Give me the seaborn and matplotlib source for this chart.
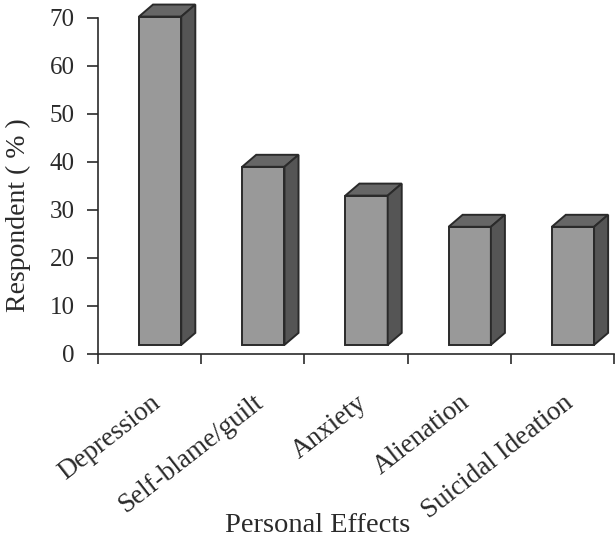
import matplotlib
matplotlib.use('Agg')
import matplotlib.pyplot as plt
from matplotlib.patches import Polygon
import pandas as pd
import seaborn as sns

effects = ['Depression', 'Self-blame/guilt', 'Anxiety', 'Alienation', 'Suicidal Ideation']
respondents = [70.3, 39, 33, 26.5, 26.5]
y_ticks = [0, 10, 20, 30, 40, 50, 60, 70]

sns.set_style('white')
plt.rcParams['font.family'] = ['Liberation Serif', 'DejaVu Serif']

W, H = 615, 540
ink = '#2a2a2a'
fig = plt.figure(figsize=(W / 100, H / 100), dpi=100)
# axis box in pixels: x 98-614, y 18-354
ax = fig.add_axes([98 / W, 1 - 354 / H, (614 - 98) / W, (354 - 18) / H])

df = pd.DataFrame({'effect': effects, 'respondent': respondents})
sns.barplot(data=df, x='effect', y='respondent', color='#999999', saturation=1,
            width=0.41, edgecolor=ink, linewidth=1.4, ax=ax)
ax.set_xlim(-0.5, 4.5)
ax.set_ylim(0, 70)

# floor of the fake 3d chart lifts the bars off the axis, and they sit right of centre
floor = 1.9
shift = 0.102
dx, dy = 0.136, 2.5
for p in ax.patches[:5]:
    p.set_x(p.get_x() + shift)
    x0, w, top = p.get_x(), p.get_width(), p.get_height()
    p.set_y(floor)
    p.set_height(top - floor)
    p.set_clip_on(False)
    x1 = x0 + w
    ax.add_patch(Polygon([(x0, top), (x1, top), (x1 + dx, top + dy), (x0 + dx, top + dy)],
                         closed=True, facecolor='#666666', edgecolor=ink, lw=1.4, clip_on=False, zorder=3))
    ax.add_patch(Polygon([(x1, floor), (x1 + dx, floor + dy), (x1 + dx, top + dy), (x1, top)],
                         closed=True, facecolor='#555555', edgecolor=ink, lw=1.4, clip_on=False, zorder=3))

sns.despine(ax=ax)
for side in ['left', 'bottom']:
    ax.spines[side].set_linewidth(1.2)
    ax.spines[side].set_color(ink)

ax.set_yticks(y_ticks)
ax.tick_params(axis='y', left=True, length=8, width=1.2, color=ink, labelsize=18, pad=9, labelcolor=ink)
ax.set_xticks([i - 0.5 for i in range(6)], minor=False, labels=[''] * 6)
ax.tick_params(axis='x', bottom=True, length=7, width=1.2, color=ink)
ax.set_xticks(range(5), labels=effects, minor=True)
ax.tick_params(axis='x', which='minor', bottom=False, labelsize=19.5, pad=24)
for lab in ax.get_xticklabels(minor=True):
    lab.set_rotation(38)
    lab.set_ha('right')
    lab.set_rotation_mode('anchor')
    lab.set_color(ink)

ax.set_xlabel('')
ax.set_ylabel('')
fig.text(18 / W, 1 - 215 / H, 'Respondent ( % )', fontsize=20, rotation=90, ha='center', va='center', color=ink)
fig.text(318 / W, 1 - 526 / H, 'Personal Effects', fontsize=20.5, ha='center', va='center', color=ink)

fig.savefig('out.png', dpi=100)
